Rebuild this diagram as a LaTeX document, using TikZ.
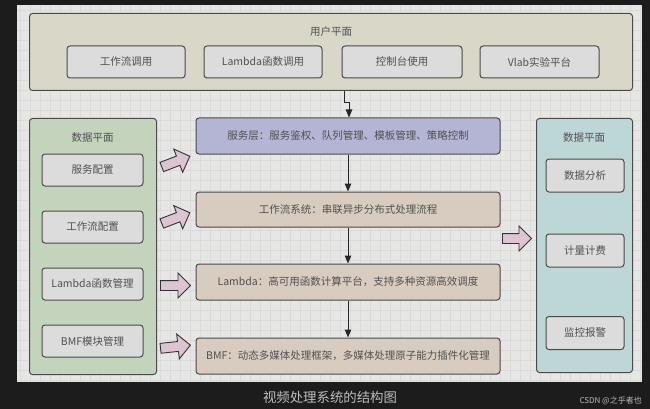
\documentclass[tikz,border=0pt]{standalone}
\usepackage{fontspec}
\setmainfont{Noto Sans CJK SC}
\usetikzlibrary{arrows.meta,shapes.arrows,calc}
\definecolor{outerbg}{HTML}{1C1C1C}
\definecolor{gridbg}{HTML}{E6E6E5}
\definecolor{gridln}{HTML}{DADADA}
\definecolor{bordc}{HTML}{4A4A4A}
\definecolor{txtc}{HTML}{505050}
\definecolor{userfill}{HTML}{D9D7C8}
\definecolor{innerfill}{HTML}{DCDCDC}
\definecolor{svcfill}{HTML}{B4B4D4}
\definecolor{tanfill}{HTML}{D8CCC0}
\definecolor{greenfill}{HTML}{C4D4BC}
\definecolor{tealfill}{HTML}{BDD7D6}
\definecolor{pinkfill}{HTML}{DCC4D2}
\definecolor{capc}{HTML}{BDBDBD}
\tikzset{
  plane/.style={draw=bordc, line width=1pt, rounded corners=3pt, inner sep=0pt, anchor=north west},
  ibox/.style={draw=bordc, line width=1pt, rounded corners=3pt, fill=innerfill, inner sep=0pt,
    text=txtc, font=\fontsize{10.5}{12}\selectfont, minimum height=32pt},
  layer/.style={draw=bordc, line width=1pt, rounded corners=3pt, inner sep=0pt,
    text=txtc, font=\fontsize{10.5}{12}\selectfont, minimum width=304pt, minimum height=36pt},
  ttl/.style={text=txtc, font=\fontsize{10.5}{12}\selectfont, inner sep=0pt},
  conn/.style={draw=black!85, line width=1pt, -{Triangle[length=8pt,width=6.5pt]}},
  fatarrow/.style={single arrow, draw=black!80, line width=0.9pt, fill=pinkfill,
    inner sep=4.5pt, single arrow head extend=7.5pt, minimum height=30pt},
}
\begin{document}
\begin{tikzpicture}[x=1pt,y=-1pt]
\useasboundingbox (0,0) rectangle (650,409);
\fill[outerbg] (0,0) rectangle (650,409);
\fill[gridbg] (17,5) rectangle (642,382);
\begin{scope}
\clip (17,5) rectangle (642,382);
\foreach \gx in {20,30,...,640} \draw[gridln, line width=0.4pt] (\gx,5) -- (\gx,382);
\foreach \gy in {10,20,...,380} \draw[gridln, line width=0.4pt] (17,\gy) -- (642,\gy);
\end{scope}

% user plane
\node[plane, fill=userfill, minimum width=603pt, minimum height=77pt] (user) at (29,13) {};
\node[ttl] (usert) at (331,32) {用户平面};
\node[ibox, minimum width=118pt] (u1) at (126,62) {工作流调用};
\node[ibox, minimum width=118pt] (u2) at (263,62) {Lambda函数调用};
\node[ibox, minimum width=120pt] (u3) at (402,62) {控制台使用};
\node[ibox, minimum width=119pt] (u4) at (539.5,62) {Vlab实验平台};

% middle layers
\node[layer, fill=svcfill] (svc) at (348,136) {服务层：服务鉴权、队列管理、模板管理、策略控制};
\node[layer, fill=tanfill, minimum height=35pt] (wf) at (348,209.5) {工作流系统：串联异步分布式处理流程};
\node[layer, fill=tanfill] (lam) at (348,282) {Lambda：高可用函数计算平台，支持多种资源高效调度};
\node[layer, fill=tanfill] (bmf) at (348,356) {BMF：动态多媒体处理框架，多媒体处理原子能力插件化管理};

% left data plane
\node[plane, fill=greenfill, minimum width=127pt, minimum height=256pt] (ldp) at (29,118) {};
\node[ttl] (ldpt) at (92.5,138) {数据平面};
\node[ibox, minimum width=101pt] (l1) at (92.5,170) {服务配置};
\node[ibox, minimum width=101pt] (l2) at (92.5,227) {工作流配置};
\node[ibox, minimum width=101pt] (l3) at (92.5,284) {Lambda函数管理};
\node[ibox, minimum width=101pt] (l4) at (92.5,341) {BMF模块管理};

% right data plane
\node[plane, fill=tealfill, minimum width=96pt, minimum height=254pt] (rdp) at (536,118) {};
\node[ttl] (rdpt) at (584,138) {数据平面};
\node[ibox, minimum width=78pt, minimum height=33pt] (r1) at (585,175.5) {数据分析};
\node[ibox, minimum width=78pt, minimum height=33pt] (r2) at (585,250.5) {计量计费};
\node[ibox, minimum width=78pt, minimum height=33pt] (r3) at (585,333) {监控报警};

% fat arrows
\node[fatarrow, rotate=21] (fa1) at (173.5,162.5) {};
\node[fatarrow, rotate=21] (fa2) at (173.5,219) {};
\node[fatarrow] (fa3) at (173,285.5) {};
\node[fatarrow, rotate=6] (fa4) at (173,347) {};
\node[fatarrow, minimum height=29pt] (fa5) at (514.5,238.5) {};

% connectors
\coordinate (j1) at (344,103);
\coordinate (j2) at (349,103);
\draw[conn] (user.south -| j1) -- (j1) -- (j2) -- (svc.north -| j2);
\draw[conn] (svc) -- (wf);
\draw[conn] (wf) -- (lam);
\draw[conn] (lam) -- (bmf);

% caption
\node[text=capc, font=\fontsize{13.4}{15}\selectfont, inner sep=0pt] (cap) at (330,397) {视频处理系统的结构图};
\node[text=capc, font=\fontsize{8}{9}\selectfont, inner sep=0pt, anchor=east] (csdn) at (642,401) {CSDN @之乎者也};
\end{tikzpicture}
\end{document}
